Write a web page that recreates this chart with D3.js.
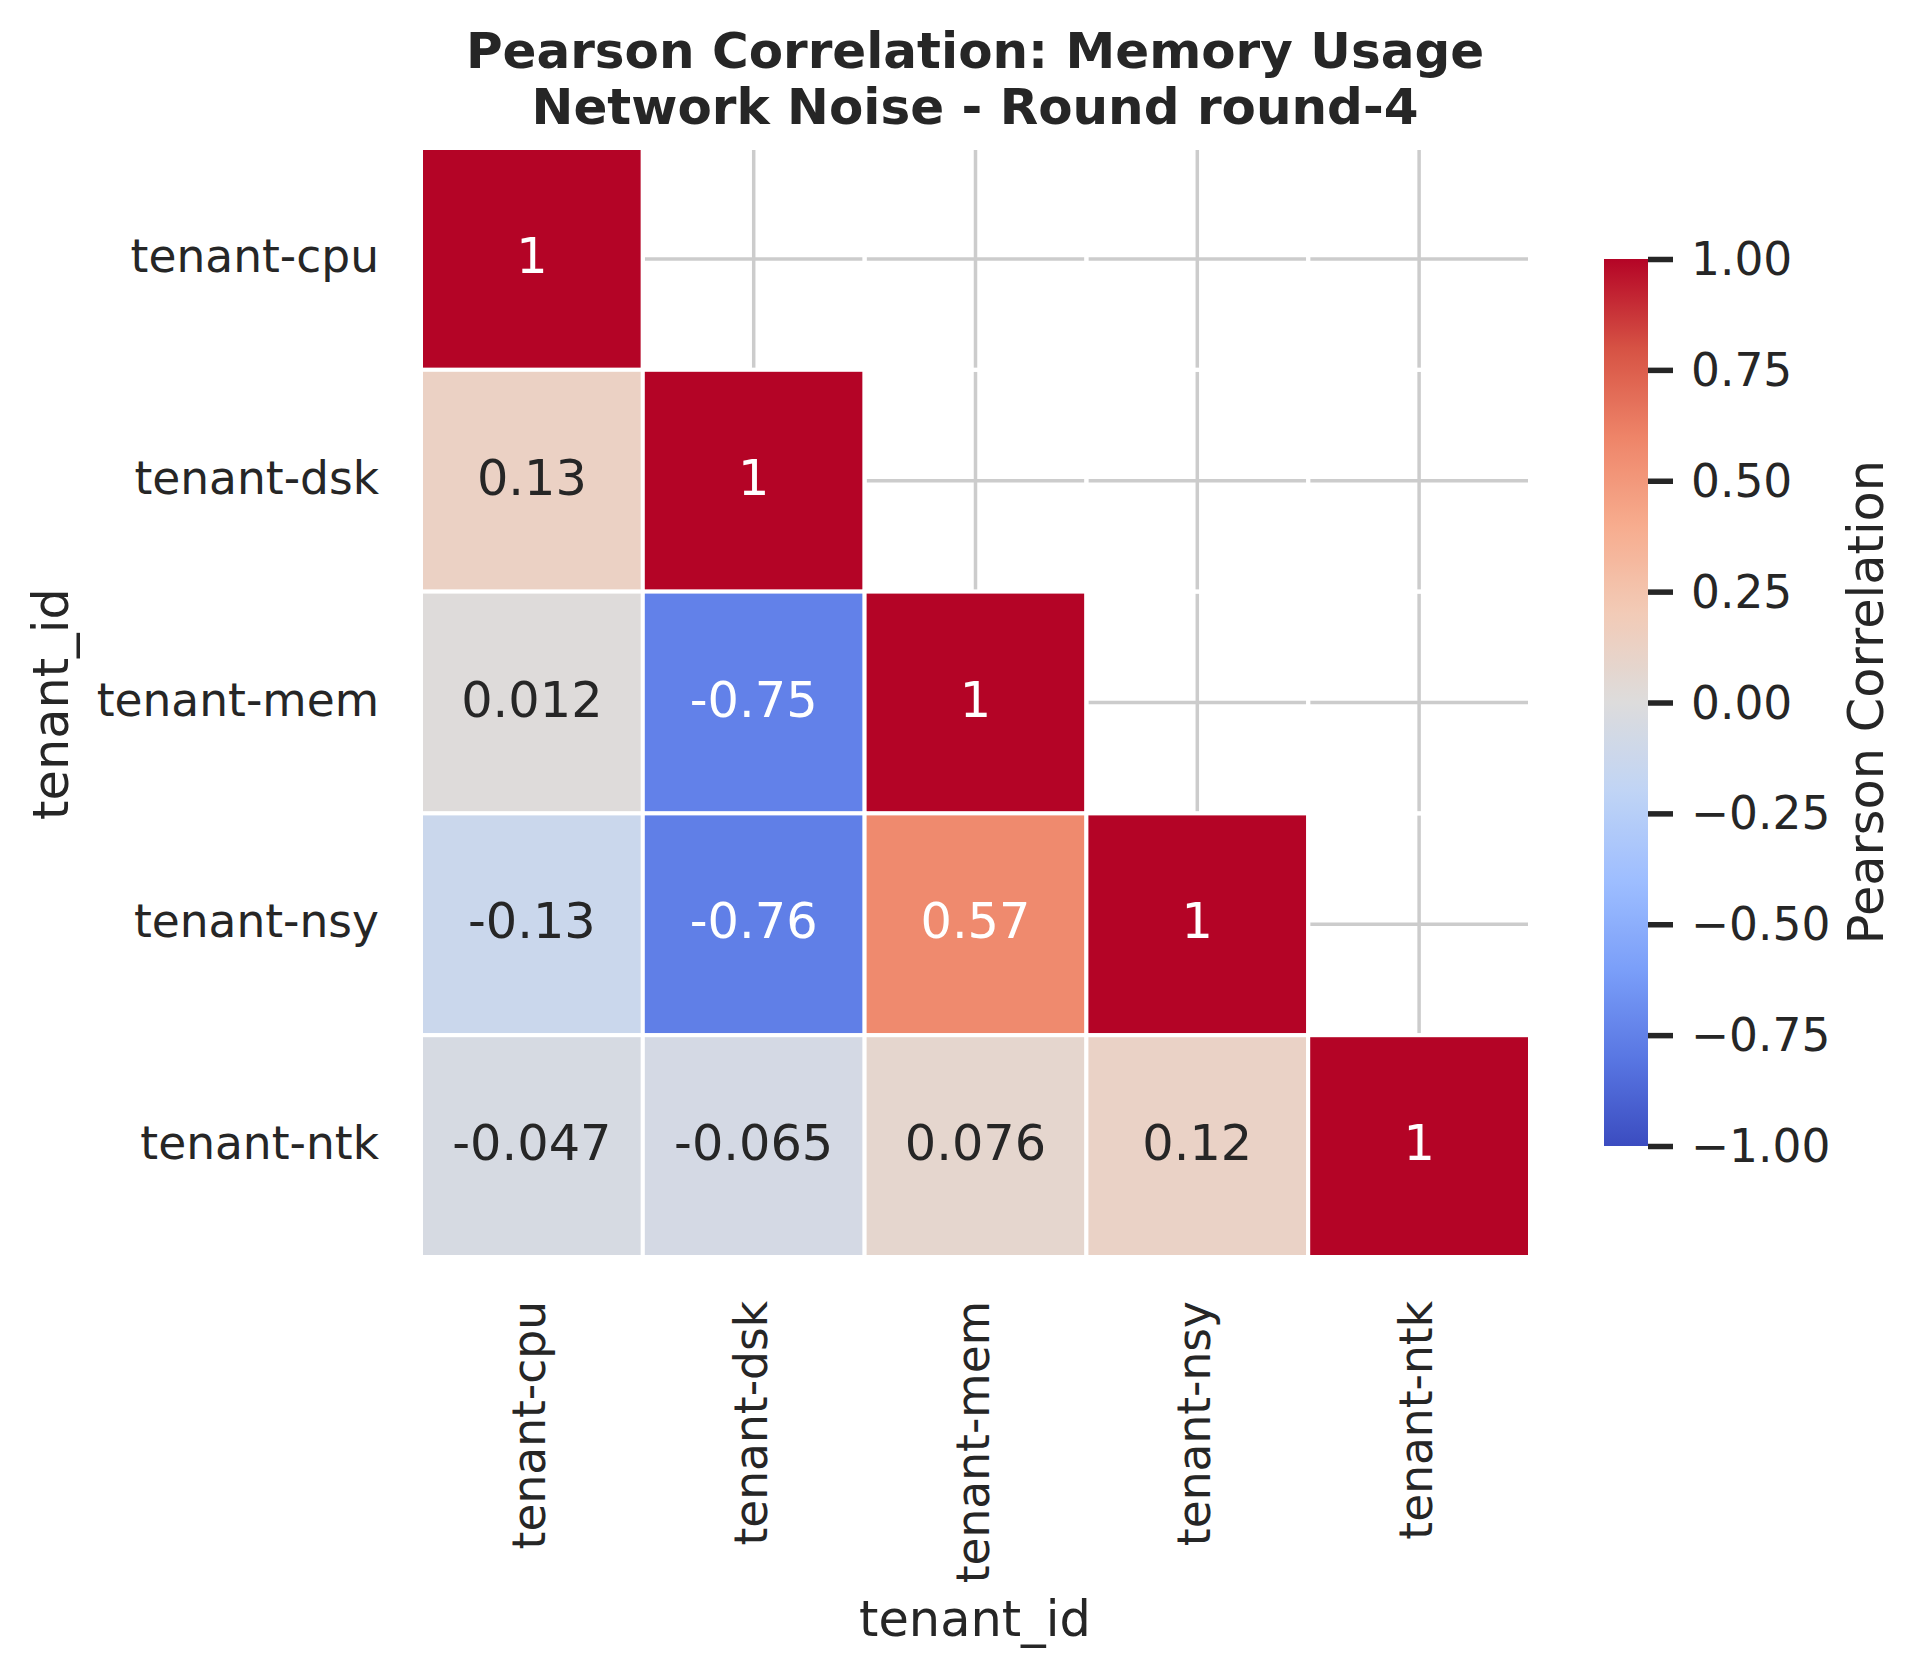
<!DOCTYPE html>
<html>
<head>
<meta charset="utf-8">
<script src="https://cdn.jsdelivr.net/npm/d3@7"></script>
<style>
  body { margin: 0; background: #fff; }
  text { font-family: "DejaVu Sans", sans-serif; fill: #262626; }
</style>
</head>
<body>
<div id="chart"></div>
<script>
// data
const tenants = ['tenant-cpu', 'tenant-dsk', 'tenant-mem', 'tenant-nsy', 'tenant-ntk'];
// lower triangle of the correlation matrix (upper part is masked)
const rowCpu = [1];
const rowDsk = [0.13, 1];
const rowMem = [0.012, -0.75, 1];
const rowNsy = [-0.13, -0.76, 0.57, 1];
const rowNtk = [-0.047, -0.065, 0.076, 0.12, 1];
const corrRows = [rowCpu, rowDsk, rowMem, rowNsy, rowNtk];
const cbarTicks = [-1, -0.75, -0.5, -0.25, 0, 0.25, 0.5, 0.75, 1];

const titleLines = ['Pearson Correlation: Memory Usage', 'Network Noise - Round round-4'];

// coolwarm samples at 0, 0.1, ... 1
const coolwarm = ['#3b4cc0', '#5977e3', '#7b9ff9', '#9ebeff', '#c0d4f5', '#dddcdc',
                  '#f2cbb7', '#f7ac8e', '#ee8468', '#d65244', '#b40426'];

let width = 1923, height = 1678;
let tickSize = '45.5px', labelSize = '49.4px';

let svg = d3.select('#chart').append('svg')
  .attr('width', width).attr('height', height);

svg.append('rect').attr('width', width).attr('height', height).attr('fill', '#fff');

let x = d3.scaleBand().domain(tenants).range([421, 1530]);
let y = d3.scaleBand().domain(tenants).range([148, 1257]);

let color = d3.scaleLinear()
  .domain(d3.range(coolwarm.length).map(i => -1 + 2 * i / (coolwarm.length - 1)))
  .range(coolwarm)
  .interpolate(d3.interpolateRgb)
  .clamp(true);

// build cells, masked ones get value null
let cells = [];
tenants.forEach((r, i) => {
  tenants.forEach((c, j) => {
    cells.push({ row: r, col: c, value: j <= i ? corrRows[i][j] : null });
  });
});

// grid (behind the heatmap)
let grid = svg.append('g').attr('stroke', '#cccccc').attr('stroke-width', 3.5);
grid.selectAll('line.v').data(tenants).enter().append('line')
  .attr('x1', d => x(d) + x.bandwidth() / 2).attr('x2', d => x(d) + x.bandwidth() / 2)
  .attr('y1', y.range()[0]).attr('y2', y.range()[1]);
grid.selectAll('line.h').data(tenants).enter().append('line')
  .attr('y1', d => y(d) + y.bandwidth() / 2).attr('y2', d => y(d) + y.bandwidth() / 2)
  .attr('x1', x.range()[0]).attr('x2', x.range()[1]);

// cells
svg.append('g').selectAll('rect')
  .data(cells)
  .enter()
  .append('rect')
  .attr('x', d => x(d.col))
  .attr('y', d => y(d.row))
  .attr('width', x.bandwidth())
  .attr('height', y.bandwidth())
  .attr('fill', d => d.value === null ? 'none' : color(d.value))
  .attr('stroke', '#fff')
  .attr('stroke-width', 4);

function luminance(c) {
  let rgb = d3.rgb(c);
  let lin = v => { v = v / 255; return v <= 0.03928 ? v / 12.92 : Math.pow((v + 0.055) / 1.055, 2.4); };
  return 0.2126 * lin(rgb.r) + 0.7152 * lin(rgb.g) + 0.0722 * lin(rgb.b);
}

// annotations
svg.append('g').selectAll('text')
  .data(cells.filter(d => d.value !== null))
  .enter()
  .append('text')
  .attr('x', d => x(d.col) + x.bandwidth() / 2)
  .attr('y', d => y(d.row) + y.bandwidth() / 2 + 14)
  .attr('text-anchor', 'middle')
  .style('font-size', labelSize)
  .style('fill', d => luminance(color(d.value)) > 0.408 ? '#262626' : '#fff')
  .text(d => String(d.value));

// y tick labels
svg.append('g').selectAll('text')
  .data(tenants)
  .enter()
  .append('text')
  .attr('x', 379)
  .attr('y', d => y(d) + y.bandwidth() / 2 + 13)
  .attr('text-anchor', 'end')
  .style('font-size', tickSize)
  .text(d => d);

// x tick labels (rotated)
svg.append('g').selectAll('text')
  .data(tenants)
  .enter()
  .append('text')
  .attr('transform', d => `translate(${x(d) + x.bandwidth() / 2 + 13},1301) rotate(-90)`)
  .attr('text-anchor', 'end')
  .style('font-size', tickSize)
  .text(d => d);

// axis labels
svg.append('text')
  .attr('x', 975).attr('y', 1636)
  .attr('text-anchor', 'middle')
  .style('font-size', labelSize)
  .text('tenant_id');

svg.append('text')
  .attr('transform', 'translate(68,704) rotate(-90)')
  .attr('text-anchor', 'middle')
  .style('font-size', labelSize)
  .text('tenant_id');

// title
svg.append('g').selectAll('text')
  .data(titleLines)
  .enter()
  .append('text')
  .attr('x', 975)
  .attr('y', (d, i) => 68 + i * 56)
  .attr('text-anchor', 'middle')
  .style('font-size', '50px')
  .style('font-weight', 'bold')
  .text(d => d);

// colorbar
let cb = d3.scaleLinear().domain([-1, 1]).range([1146, 259]);
let cbX = 1604, cbW = 44;

let grad = svg.append('defs').append('linearGradient')
  .attr('id', 'cbgrad')
  .attr('x1', 0).attr('y1', 1).attr('x2', 0).attr('y2', 0);
grad.selectAll('stop')
  .data(d3.range(0, 1.0001, 0.02))
  .enter()
  .append('stop')
  .attr('offset', d => d)
  .attr('stop-color', d => color(-1 + 2 * d));

svg.append('rect')
  .attr('x', cbX).attr('y', cb(1))
  .attr('width', cbW).attr('height', cb(-1) - cb(1))
  .attr('fill', 'url(#cbgrad)');

let cbAxis = svg.append('g')
  .attr('transform', `translate(${cbX + cbW},0)`)
  .call(d3.axisRight(cb).tickValues(cbarTicks).tickSize(25).tickPadding(18).tickFormat(d3.format('.2f')));
cbAxis.select('.domain').remove();
cbAxis.selectAll('.tick line').attr('stroke', '#262626').attr('stroke-width', 5.5);
cbAxis.selectAll('.tick text')
  .attr('dy', null)
  .attr('y', 15.5)
  .style('font-size', tickSize)
  .style('font-family', '"DejaVu Sans", sans-serif')
  .attr('fill', '#262626');

svg.append('text')
  .attr('transform', 'translate(1883,702) rotate(-90)')
  .attr('text-anchor', 'middle')
  .style('font-size', labelSize)
  .text('Pearson Correlation');
</script>
</body>
</html>
